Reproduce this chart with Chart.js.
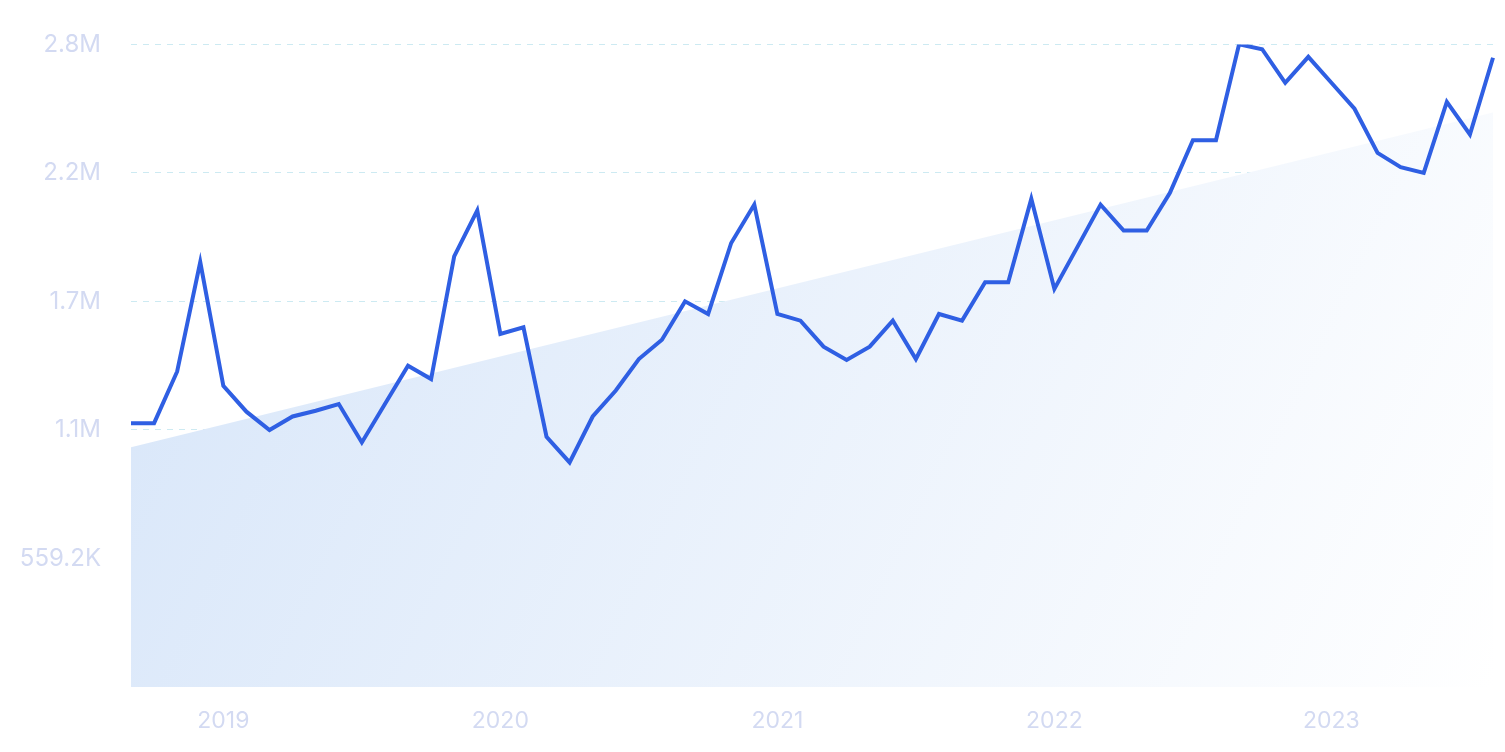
<!DOCTYPE html>
<html>
<head>
<meta charset="utf-8">
<script src="https://cdn.jsdelivr.net/npm/chart.js@4"></script>
<style>
  html, body { margin: 0; padding: 0; background: #fff; }
  #wrap { width: 1505px; height: 752px; }
</style>
</head>
<body>
<div id="wrap"><canvas id="grafico"></canvas></div>
<script>
// meses desde sep 2018 hasta ago 2023
const meses = [];
for (let i = 0; i < 60; i++) {
  const m = (8 + i) % 12;
  const a = 2018 + Math.floor((8 + i) / 12);
  meses.push(a + "-" + String(m + 1).padStart(2, "0"));
}

const valores = [
  1.148, 1.148, 1.373, 1.849, 1.310, 1.198, 1.118, 1.177, 1.202, 1.231,
  1.064, 1.231, 1.398, 1.340, 1.874, 2.074, 1.536, 1.565, 1.089, 0.977,
  1.177, 1.290, 1.427, 1.511, 1.678, 1.623, 1.932, 2.099, 1.623, 1.594,
  1.481, 1.423, 1.481, 1.594, 1.427, 1.623, 1.594, 1.761, 1.761, 2.124,
  1.732, 1.915, 2.099, 1.986, 1.986, 2.149, 2.379, 2.379, 2.796, 2.775,
  2.629, 2.742, 2.629, 2.516, 2.324, 2.262, 2.237, 2.546, 2.404, 2.738
].map((v) => v * 1e6);

// linea de tendencia (inicio y fin)
const tendenciaInicio = 1.043e6;
const tendenciaFin = 2.50e6;
const tendencia = valores.map((v, i) =>
  i === 0 ? tendenciaInicio : i === valores.length - 1 ? tendenciaFin : null
);

const pasoY = 559.2e3;
const etiquetasY = ["", "559.2K", "1.1M", "1.7M", "2.2M", "2.8M"];

const ctx = document.getElementById("grafico").getContext("2d");
new Chart(ctx, {
  type: "line",
  data: {
    labels: meses,
    datasets: [
      {
        data: valores,
        borderColor: "#2f5fe3",
        borderWidth: 4,
        pointRadius: 0,
        tension: 0,
        fill: false,
      },
      {
        data: tendencia,
        spanGaps: true,
        borderWidth: 0,
        pointRadius: 0,
        fill: "origin",
        backgroundColor: (c) => {
          const a = c.chart.chartArea;
          if (!a) return "rgba(220,233,250,0.9)";
          const g = c.chart.ctx.createLinearGradient(a.left, a.top, a.right, a.bottom);
          g.addColorStop(0, "rgba(214,229,249,1)");
          g.addColorStop(1, "rgba(255,255,255,1)");
          return g;
        },
      },
    ],
  },
  options: {
    responsive: true,
    maintainAspectRatio: false,
    animation: false,
    layout: { padding: { top: -20, right: -5 } },
    plugins: { legend: { display: false }, tooltip: { enabled: false } },
    scales: {
      x: {
        grid: { display: false },
        border: { display: false },
        afterFit: (s) => { s.height = 65; },
        ticks: {
          autoSkip: false,
          maxRotation: 0,
          color: "#d3daf2",
          font: { family: "Inter", size: 23 },
          padding: 12,
          callback: (v, i) => (meses[i].endsWith("-01") ? meses[i].slice(0, 4) : ""),
        },
      },
      y: {
        min: 0,
        max: pasoY * 5,
        afterFit: (s) => { s.width = 131; },
        grid: {
          color: (c) => (c.index === 0 ? "transparent" : "#cdeaf2"),
          drawTicks: false,
        },
        border: { display: false, dash: [6, 6] },
        ticks: {
          stepSize: pasoY,
          color: "#d3daf2",
          font: { family: "Inter", size: 24 },
          padding: 30,
          callback: (v, i) => etiquetasY[i],
        },
      },
    },
  },
});
</script>
</body>
</html>
